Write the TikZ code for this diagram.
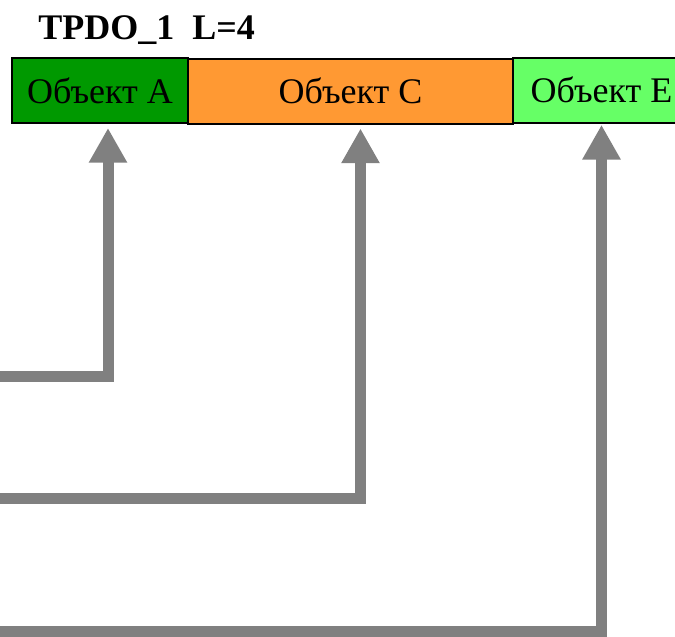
\documentclass[tikz,border=0pt]{standalone}
\usepackage{fontspec}
\setmainfont{Liberation Serif}
\usetikzlibrary{arrows.meta}
\definecolor{dgreen}{RGB}{0,153,0}
\definecolor{orng}{RGB}{255,153,51}
\definecolor{lgreen}{RGB}{102,255,102}
\definecolor{arrgray}{RGB}{128,128,128}
\tikzset{
  objbox/.style={draw=black, line width=1.5pt, minimum height=48.75pt, inner sep=0pt, font=\fontsize{27}{30}\selectfont},
  arr/.style={draw=arrgray, line width=8.25pt, line join=miter, -{Triangle[width=27pt,length=26pt]}}
}
\begin{document}
\begin{tikzpicture}[x=0.75pt,y=-0.75pt]
\useasboundingbox (0,0) rectangle (675,636);
\node[anchor=west, font=\bfseries\fontsize{27}{30}\selectfont, inner sep=0pt] (title) at (38,30) {TPDO\_1\ \ L=4};
\node[objbox, fill=dgreen, minimum width=132pt] (A) at (100,90.5) {Объект A};
\node[objbox, fill=orng, minimum width=243.75pt] (C) at (350.5,91) {Объект C};
\node[objbox, fill=lgreen, minimum width=132.75pt] (E) at (601.5,90) {Объект E};
\coordinate (sa) at (-10,376);
\coordinate (sc) at (-10,498);
\coordinate (se) at (-10,631);
\draw[arr, shorten >=3pt] (sa) -| ([xshift=6pt]A.south);
\draw[arr, shorten >=3pt] (sc) -| ([xshift=7.5pt]C.south);
\draw[arr, shorten >=1pt] (se) -| ([xshift=0pt]E.south);
\end{tikzpicture}
\end{document}
